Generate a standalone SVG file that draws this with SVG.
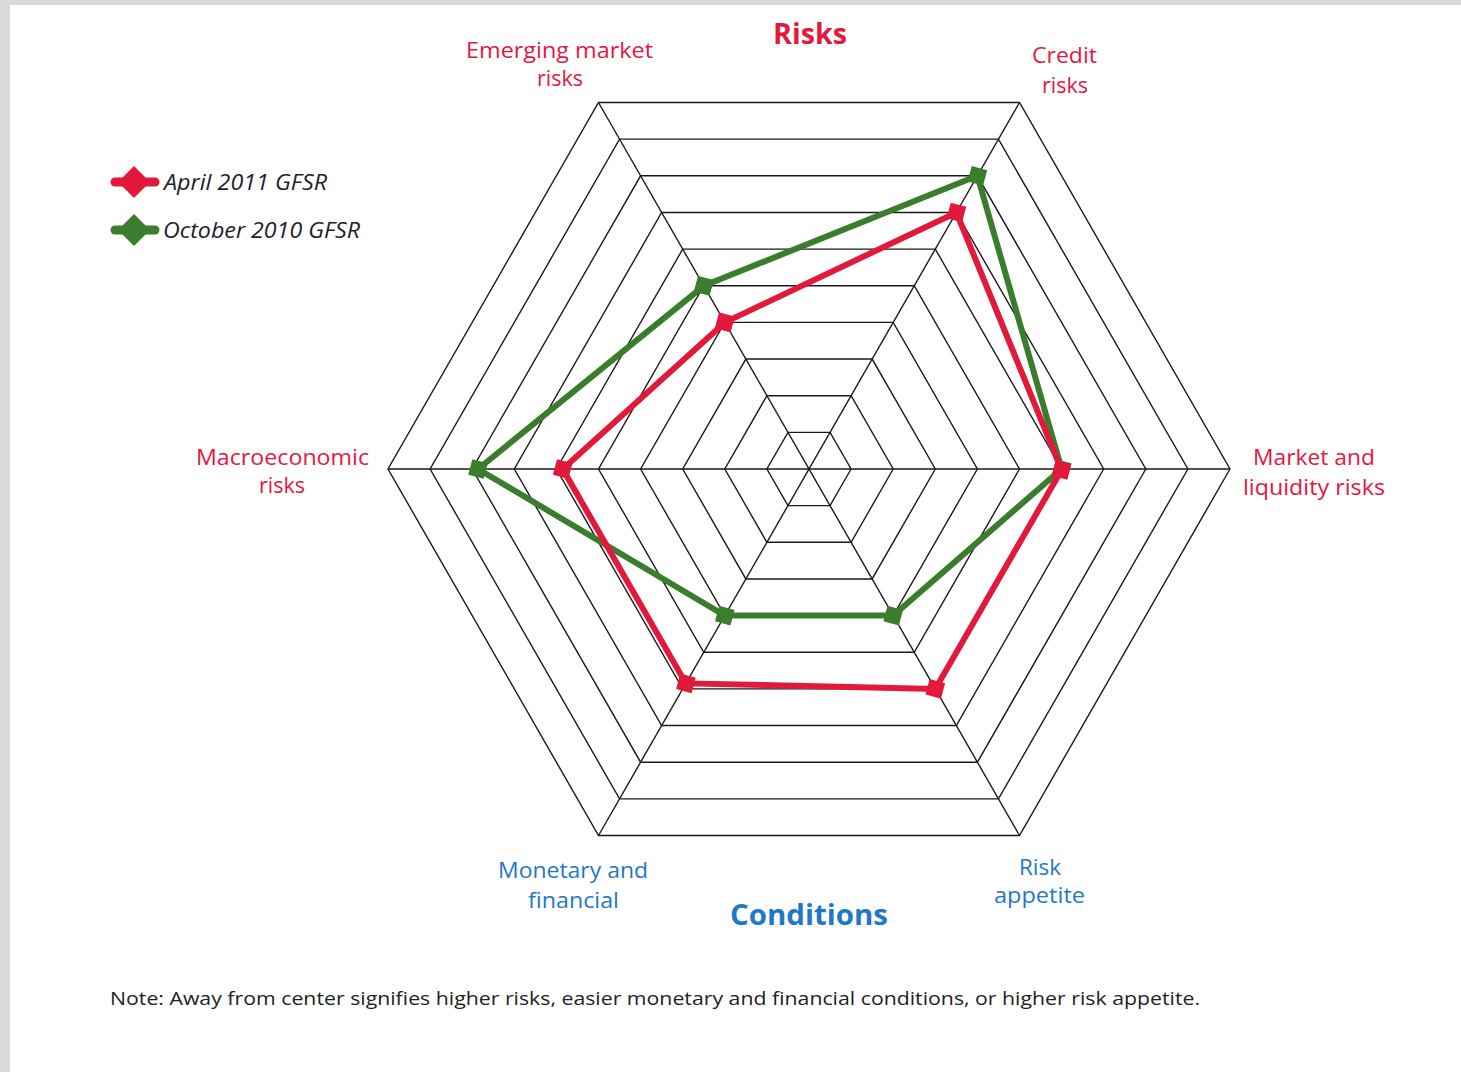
<svg xmlns="http://www.w3.org/2000/svg" xmlns:xlink="http://www.w3.org/1999/xlink" width="1461" height="1072" viewBox="0 0 1461 1072">
<style>
.grid{fill:none;stroke:#1a1a1a;stroke-width:1.4;stroke-linejoin:miter}
.lbl{font-family:"Open Sans","Liberation Sans",sans-serif;font-size:22px}
.red{fill:#e5173f}
.blue{fill:#1f78c8}
.ttl{font-family:"Open Sans","Liberation Sans",sans-serif;font-size:28px;font-weight:bold}
.leg{font-family:"Open Sans","Liberation Sans",sans-serif;font-size:22px;font-style:italic;fill:#1e1e2e}
.note{font-family:"Open Sans","Liberation Sans",sans-serif;font-size:19px;fill:#222}
.sR{fill:none;stroke:#e3193b;stroke-width:6;stroke-linejoin:miter}
.sG{fill:none;stroke:#3a7d2c;stroke-width:6;stroke-linejoin:miter}
</style>
<defs>
<marker id="mR" markerUnits="userSpaceOnUse" markerWidth="24" markerHeight="24" refX="12" refY="12" orient="0" overflow="visible">
<rect x="4" y="4" width="16" height="16" fill="#e3193b" transform="rotate(15 12 12)"/>
</marker>
<marker id="mG" markerUnits="userSpaceOnUse" markerWidth="24" markerHeight="24" refX="12" refY="12" orient="0" overflow="visible">
<rect x="4" y="4" width="16" height="16" fill="#3a7d2c" transform="rotate(15 12 12)"/>
</marker>
</defs>
<rect x="0" y="0" width="1461" height="1072" fill="#ffffff"/>
<rect x="0" y="0" width="1461" height="5" fill="#d9d9d9"/>
<rect x="0" y="0" width="10" height="1072" fill="#d9d9d9"/>

<g id="grid">
<polygon class="grid" points="851.1,469 830.05,505.65 787.95,505.65 766.9,469 787.95,432.35 830.05,432.35"/>
<polygon class="grid" points="893.2,469 851.1,542.3 766.9,542.3 724.8,469 766.9,395.7 851.1,395.7"/>
<polygon class="grid" points="935.3,469 872.15,578.94 745.85,578.94 682.7,469 745.85,359.06 872.15,359.06"/>
<polygon class="grid" points="977.4,469 893.2,615.59 724.8,615.59 640.6,469 724.8,322.41 893.2,322.41"/>
<polygon class="grid" points="1019.5,469 914.25,652.24 703.75,652.24 598.5,469 703.75,285.76 914.25,285.76"/>
<polygon class="grid" points="1061.6,469 935.3,688.89 682.7,688.89 556.4,469 682.7,249.11 935.3,249.11"/>
<polygon class="grid" points="1103.7,469 956.35,725.54 661.65,725.54 514.3,469 661.65,212.46 956.35,212.46"/>
<polygon class="grid" points="1145.8,469 977.4,762.18 640.6,762.18 472.2,469 640.6,175.82 977.4,175.82"/>
<polygon class="grid" points="1187.9,469 998.45,798.83 619.55,798.83 430.1,469 619.55,139.17 998.45,139.17"/>
<polygon class="grid" points="1230,469 1019.5,835.48 598.5,835.48 388,469 598.5,102.52 1019.5,102.52"/>
<line class="grid" x1="388" y1="469" x2="1230" y2="469"/>
<line class="grid" x1="598.5" y1="102.52" x2="1019.5" y2="835.48"/>
<line class="grid" x1="1019.5" y1="102.52" x2="598.5" y2="835.48"/>
</g>

<g id="series">
<polygon id="oct2010" class="sG" points="703.8,285.8 977.4,175.8 1061.6,469 893.2,615.6 724.8,615.6 478,469" marker-start="url(#mG)" marker-mid="url(#mG)" marker-end="url(#mG)"/>
<polygon id="apr2011" class="sR" points="724.8,322.4 956.4,212.5 1061.6,470 935.3,688.9 685.9,683.4 562.7,469" marker-start="url(#mR)" marker-mid="url(#mR)" marker-end="url(#mR)"/>
</g>

<g id="axis-labels">
<text class="ttl red" x="810" y="44" text-anchor="middle" textLength="74" lengthAdjust="spacingAndGlyphs">Risks</text>
<g id="lbl-emerging">
<text class="lbl red" x="559.5" y="58" text-anchor="middle" textLength="187" lengthAdjust="spacingAndGlyphs">Emerging market</text>
<text class="lbl red" x="560" y="86" text-anchor="middle" textLength="46" lengthAdjust="spacingAndGlyphs">risks</text>
</g>
<g id="lbl-credit">
<text class="lbl red" x="1064.5" y="63" text-anchor="middle" textLength="65" lengthAdjust="spacingAndGlyphs">Credit</text>
<text class="lbl red" x="1065" y="93" text-anchor="middle" textLength="46" lengthAdjust="spacingAndGlyphs">risks</text>
</g>
<g id="lbl-market">
<text class="lbl red" x="1314" y="465" text-anchor="middle" textLength="122" lengthAdjust="spacingAndGlyphs">Market and</text>
<text class="lbl red" x="1314" y="495" text-anchor="middle" textLength="142" lengthAdjust="spacingAndGlyphs">liquidity risks</text>
</g>
<g id="lbl-macro">
<text class="lbl red" x="282.5" y="465" text-anchor="middle" textLength="173" lengthAdjust="spacingAndGlyphs">Macroeconomic</text>
<text class="lbl red" x="282" y="493" text-anchor="middle" textLength="46" lengthAdjust="spacingAndGlyphs">risks</text>
</g>
<g id="lbl-monetary">
<text class="lbl blue" x="573" y="878" text-anchor="middle" textLength="150" lengthAdjust="spacingAndGlyphs">Monetary and</text>
<text class="lbl blue" x="573.5" y="908" text-anchor="middle" textLength="91" lengthAdjust="spacingAndGlyphs">financial</text>
</g>
<g id="lbl-risk-appetite">
<text class="lbl blue" x="1040" y="875" text-anchor="middle" textLength="42" lengthAdjust="spacingAndGlyphs">Risk</text>
<text class="lbl blue" x="1039.5" y="903" text-anchor="middle" textLength="91" lengthAdjust="spacingAndGlyphs">appetite</text>
</g>
<text class="ttl blue" x="809" y="925" text-anchor="middle" textLength="158" lengthAdjust="spacingAndGlyphs">Conditions</text>
</g>

<g id="legend">
<g id="leg-apr">
<line x1="115" y1="182" x2="155" y2="182" stroke="#e3193b" stroke-width="9" stroke-linecap="round"/>
<polygon points="134,166 150,182 134,198 118,182" fill="#e3193b"/>
<text class="leg" x="164" y="190" textLength="163" lengthAdjust="spacingAndGlyphs">April 2011 GFSR</text>
</g>
<g id="leg-oct">
<line x1="115" y1="230" x2="155" y2="230" stroke="#3a7d2c" stroke-width="9" stroke-linecap="round"/>
<polygon points="134,214 150,230 134,246 118,230" fill="#3a7d2c"/>
<text class="leg" x="163" y="238" textLength="197" lengthAdjust="spacingAndGlyphs">October 2010 GFSR</text>
</g>
</g>

<text id="note" class="note" x="110" y="1005" textLength="1090" lengthAdjust="spacingAndGlyphs">Note: Away from center signifies higher risks, easier monetary and financial conditions, or higher risk appetite.</text>
</svg>
